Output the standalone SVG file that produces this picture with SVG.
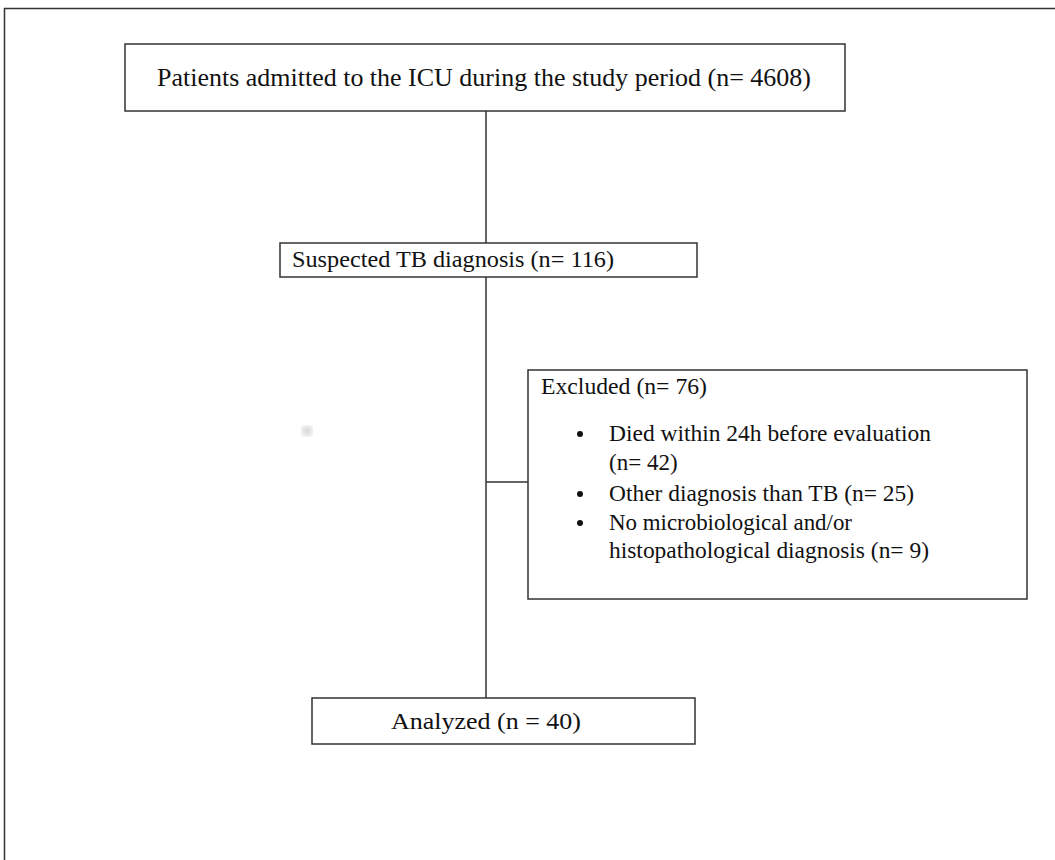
<svg xmlns="http://www.w3.org/2000/svg" width="1055" height="860" viewBox="0 0 1055 860">
<style>
.box{fill:#fff;stroke:#333;stroke-width:1.5}
.t{font-family:"Liberation Serif","Times New Roman",serif;font-size:23px;fill:#111}
.c{stroke:#333;stroke-width:1.5;fill:none}
</style>
<defs><filter id="bl"><feGaussianBlur stdDeviation="3"/></filter></defs>
<rect width="1055" height="860" fill="#fff"/>
<path class="c" d="M4.5,860 V8.5 H1055"/>
<circle cx="307" cy="431" r="5" fill="#ccc" filter="url(#bl)"/>
<g id="connectors">
<line class="c" x1="486" y1="111" x2="486" y2="243"/>
<line class="c" x1="486" y1="277" x2="486" y2="698"/>
<line class="c" x1="486" y1="482" x2="528" y2="482"/>
</g>
<g id="n1">
<rect class="box" x="125" y="44" width="720" height="67"/>
<text class="t" x="157" y="86" style="font-size:26px" textLength="654" lengthAdjust="spacingAndGlyphs">Patients admitted to the ICU during the study period (n= 4608)</text>
</g>
<g id="n2">
<rect class="box" x="280" y="243" width="417" height="34"/>
<text class="t" x="292" y="267" textLength="322" lengthAdjust="spacingAndGlyphs">Suspected TB diagnosis (n= 116)</text>
</g>
<g id="n3">
<rect class="box" x="528" y="370" width="499" height="229"/>
<text class="t" x="541" y="394" textLength="166" lengthAdjust="spacingAndGlyphs">Excluded (n= 76)</text>
<circle cx="580" cy="434" r="3" fill="#111"/>
<circle cx="580" cy="494" r="3" fill="#111"/>
<circle cx="580" cy="523" r="3" fill="#111"/>
<text class="t" x="609" y="441" textLength="322" lengthAdjust="spacingAndGlyphs">Died within 24h before evaluation</text>
<text class="t" x="609" y="470">(n= 42)</text>
<text class="t" x="609" y="501" textLength="305" lengthAdjust="spacingAndGlyphs">Other diagnosis than TB (n= 25)</text>
<text class="t" x="609" y="530" textLength="243" lengthAdjust="spacingAndGlyphs">No microbiological and/or</text>
<text class="t" x="609" y="558" textLength="320" lengthAdjust="spacingAndGlyphs">histopathological diagnosis (n= 9)</text>
</g>
<g id="n4">
<rect class="box" x="312" y="698" width="383" height="46"/>
<text class="t" x="391" y="729" textLength="190" lengthAdjust="spacingAndGlyphs">Analyzed (n = 40)</text>
</g>
</svg>
